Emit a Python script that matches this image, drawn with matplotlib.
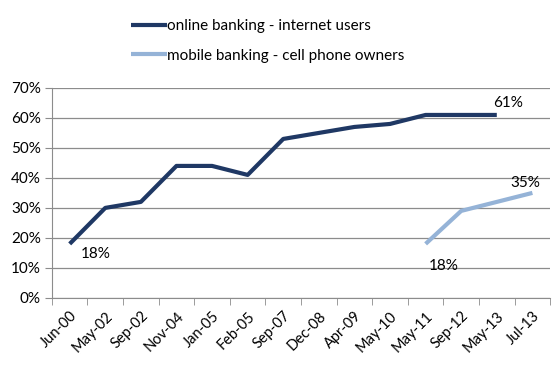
import numpy as np
import matplotlib.pyplot as plt

plt.rcParams['font.family'] = ['Lato', 'DejaVu Sans']

dates = ['Jun-00', 'May-02', 'Sep-02', 'Nov-04', 'Jan-05', 'Feb-05', 'Sep-07',
         'Dec-08', 'Apr-09', 'May-10', 'May-11', 'Sep-12', 'May-13', 'Jul-13']
online = [18, 30, 32, 44, 44, 41, 53, 55, 57, 58, 61, 61, 61, np.nan]
mobile = [np.nan] * 10 + [18, 29, 32, 35]

dark = '#1f3864'
light = '#95b3d7'

fig = plt.figure(figsize=(5.58, 3.65), dpi=100)
ax = fig.add_axes([0.093, 0.184, 0.893, 0.575])

x = np.arange(len(dates))
ax.plot(x, np.array(online) / 100, color=dark, lw=3, label='online banking - internet users',
        solid_capstyle='butt')
ax.plot(x, np.array(mobile) / 100, color=light, lw=3, label='mobile banking - cell phone owners',
        solid_capstyle='butt')

ax.set_ylim(0, 0.7)
ax.set_xlim(-0.5, len(dates) - 0.5)
ax.set_yticks(np.arange(0, 0.71, 0.1))
ax.set_yticklabels([f'{int(round(v * 100))}%' for v in np.arange(0, 0.71, 0.1)], fontsize=11)
ax.yaxis.grid(True, color='#8c8c8c', lw=0.9)
ax.set_axisbelow(True)

ax.set_xticks(x)
ax.set_xticklabels(dates, rotation=45, ha='right', rotation_mode='anchor', fontsize=10.5)
ax.tick_params(axis='x', length=0, pad=8)
ax.set_xticks(np.arange(-0.5, len(dates)), minor=True)
ax.tick_params(axis='x', which='minor', length=5, color='#8c8c8c')
ax.tick_params(axis='y', length=5, color='#8c8c8c', pad=3)

for s in ['top', 'right']:
    ax.spines[s].set_visible(False)
for s in ['left', 'bottom']:
    ax.spines[s].set_color('#8c8c8c')

# data labels
ax.annotate('18%', (0, online[0] / 100), xytext=(8, -10), textcoords='offset points',
            fontsize=11)
ax.annotate('61%', (12, online[12] / 100), xytext=(-3, 6), textcoords='offset points',
            fontsize=11)
ax.annotate('35%', (13, mobile[13] / 100), xytext=(-16, 4), textcoords='offset points',
            fontsize=11)
ax.annotate('18%', (10, mobile[10] / 100), xytext=(2, -19), textcoords='offset points',
            fontsize=11)

fig.legend(loc='upper left', bbox_to_anchor=(0.211, 0.985), frameon=False, fontsize=11,
           handlelength=2.3, handletextpad=0.05, labelspacing=1.0)

fig.savefig('out.png', dpi=100)
